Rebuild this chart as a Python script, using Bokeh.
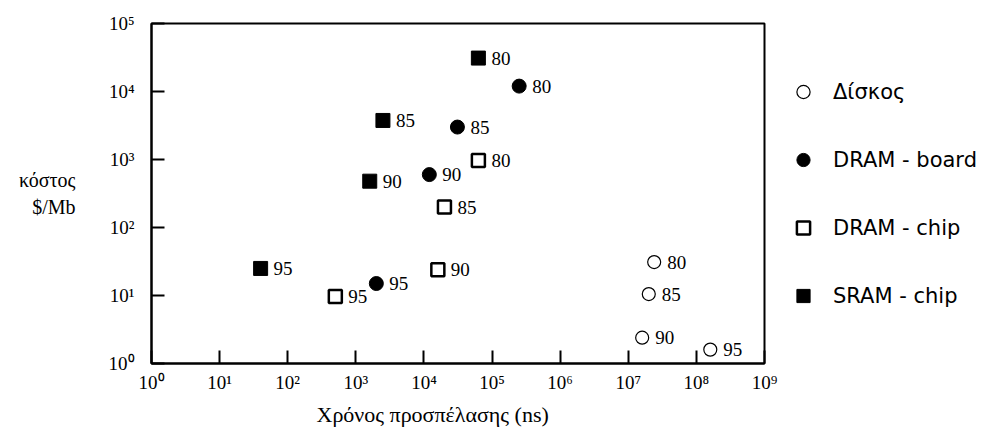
from bokeh.plotting import figure
from bokeh.models import (ColumnDataSource, LabelSet, Legend, LegendItem, Title,
                          FixedTicker, Range1d)
from bokeh.core.properties import value
from bokeh.embed import file_html
from bokeh.resources import INLINE

# ---------------- data ----------------
years = ["80", "85", "90", "95"]

disk_time = [2.4e7, 2.0e7, 1.6e7, 1.6e8]
disk_cost = [31, 10.5, 2.4, 1.6]

dram_board_time = [2.5e5, 3.1e4, 1.2e4, 2.0e3]
dram_board_cost = [1.2e4, 3.0e3, 600, 15]

dram_chip_time = [6.3e4, 2.0e4, 1.6e4, 5.0e2]
dram_chip_cost = [970, 200, 24, 9.7]

sram_chip_time = [6.3e4, 2.5e3, 1.6e3, 40]
sram_chip_cost = [3.1e4, 3.75e3, 480, 25]

series_names = ["Δίσκος", "DRAM - board", "DRAM - chip", "SRAM - chip"]

x_ticks = [1, 10, 100, 1000, 10000, 100000, 1000000, 10000000, 100000000, 1000000000]
x_tick_labels = ["10⁰", "10¹", "10²", "10³", "10⁴", "10⁵", "10⁶", "10⁷", "10⁸", "10⁹"]
y_ticks = [1, 10, 100, 1000, 10000, 100000]
y_tick_labels = ["10⁰", "10¹", "10²", "10³", "10⁴", "10⁵"]

x_title = "Χρόνος προσπέλασης (ns)"
y_title = "κόστος\n$/Mb"

SERIF = "Liberation Serif"
SANS = "DejaVu Sans"

# ---------------- figure ----------------
p = figure(frame_width=613, frame_height=340, x_axis_type="log", y_axis_type="log",
           x_range=Range1d(1, 1e9), y_range=Range1d(1, 1e5),
           output_backend="svg", toolbar_location=None,
           min_border_left=151, min_border_right=220,
           min_border_top=23, min_border_bottom=61)
p.background_fill_color = "white"
p.border_fill_color = "white"
p.grid.visible = False
p.outline_line_color = "black"
p.outline_line_width = 2

p.xaxis.ticker = FixedTicker(ticks=x_ticks, minor_ticks=[])
p.yaxis.ticker = FixedTicker(ticks=y_ticks, minor_ticks=[])
p.xaxis.major_label_overrides = dict(zip(x_ticks, x_tick_labels))
p.yaxis.major_label_overrides = dict(zip(y_ticks, y_tick_labels))
for ax in (p.xaxis, p.yaxis):
    ax.axis_line_width = 2
    ax.axis_line_color = "black"
    ax.major_tick_line_width = 2
    ax.major_tick_line_color = "black"
    ax.major_tick_in = 13
    ax.major_tick_out = 0
    ax.minor_tick_in = 0
    ax.minor_tick_out = 0
    ax.major_label_text_font = SERIF
    ax.major_label_text_font_size = "19px"
    ax.major_label_text_color = "black"
p.xaxis.major_label_standoff = 8
p.yaxis.major_label_standoff = 17

p.yaxis.axis_label = y_title
p.yaxis.axis_label_orientation = "horizontal"
p.yaxis.axis_label_text_font = SERIF
p.yaxis.axis_label_text_font_size = "20px"
p.yaxis.axis_label_text_font_style = "normal"
p.yaxis.axis_label_text_color = "black"
p.yaxis.axis_label_text_align = "center"
p.yaxis.axis_label_standoff = 30

p.add_layout(Title(text=x_title, align="left", offset=165, standoff=8,
                   text_font=SERIF, text_font_size="22px",
                   text_font_style="normal", text_color="black"), "below")

# ---------------- markers ----------------
r_disk = p.scatter(disk_time, disk_cost, marker="circle", size=13,
                   fill_color="white", line_color="black", line_width=1.2)
r_board = p.scatter(dram_board_time, dram_board_cost, marker="circle", size=14,
                    fill_color="black", line_color="black", line_width=1)
r_chip = p.scatter(dram_chip_time, dram_chip_cost, marker="square", size=13,
                   fill_color="white", line_color="black", line_width=2.5)
r_sram = p.scatter(sram_chip_time, sram_chip_cost, marker="square", size=14,
                   fill_color="black", line_color="black", line_width=1)

# year labels
for xs, ys in [(disk_time, disk_cost), (dram_board_time, dram_board_cost),
               (dram_chip_time, dram_chip_cost), (sram_chip_time, sram_chip_cost)]:
    src = ColumnDataSource(dict(x=xs, y=ys, t=years))
    p.add_layout(LabelSet(x="x", y="y", text="t", source=src, x_offset=13, y_offset=0,
                          text_baseline="middle", text_align="left",
                          text_font=value(SERIF), text_font_size="19px",
                          text_color="black"))

# ---------------- legend ----------------
legend = Legend(items=[LegendItem(label=series_names[0], renderers=[r_disk]),
                       LegendItem(label=series_names[1], renderers=[r_board]),
                       LegendItem(label=series_names[2], renderers=[r_chip]),
                       LegendItem(label=series_names[3], renderers=[r_sram])],
                location=(9, 51), orientation="vertical",
                glyph_width=60, glyph_height=33, spacing=35, padding=0, margin=0,
                label_standoff=0, border_line_alpha=0, background_fill_alpha=0,
                label_text_font=SANS, label_text_font_size="21px",
                label_text_color="black", label_text_baseline="middle")
p.add_layout(legend, "right")

open("out.html", "w").write(file_html(p, INLINE))
